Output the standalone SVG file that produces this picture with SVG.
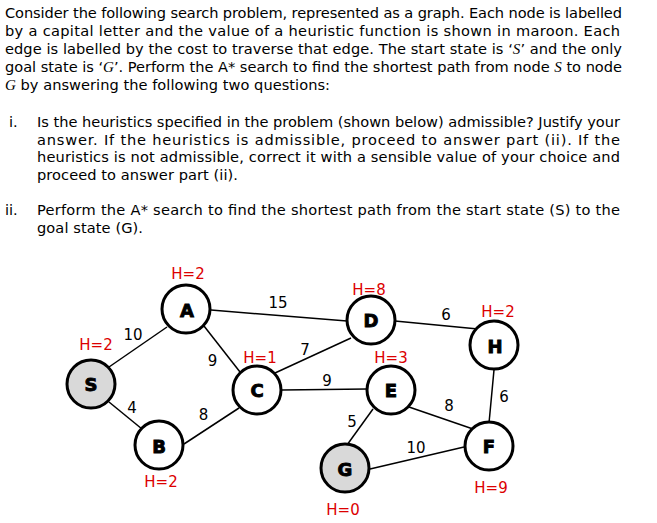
<svg xmlns="http://www.w3.org/2000/svg" width="657" height="523" viewBox="0 0 657 523">
<style>
.p{font-family:"DejaVu Sans",Verdana,sans-serif;font-size:14.6px;fill:#000}
.it{font-family:"Liberation Serif",serif;font-style:italic;font-size:15px}
.hl{font-family:"DejaVu Sans",Verdana,sans-serif;font-size:15px;fill:#dc0000;text-anchor:middle}
.el{font-family:"DejaVu Sans",Verdana,sans-serif;font-size:15px;fill:#000;text-anchor:middle}
.nl{font-family:"DejaVu Sans",sans-serif;font-weight:bold;font-size:18px;fill:#000;stroke:#000;stroke-width:0.9;text-anchor:middle}
.nc{fill:#fff;stroke:#000;stroke-width:3}
.gray{fill:#d9d9d9}
.edge line{stroke:#000;stroke-width:1.5}
</style>
<rect width="657" height="523" fill="#fff"/>
<g id="text">
<text class="p" x="5" y="18" textLength="617" lengthAdjust="spacing">Consider the following search problem, represented as a graph. Each node is labelled</text>
<text class="p" x="5" y="36" textLength="615" lengthAdjust="spacing">by a capital letter and the value of a heuristic function is shown in maroon. Each</text>
<text class="p" x="5" y="54" textLength="617" lengthAdjust="spacing">edge is labelled by the cost to traverse that edge. The start state is ‘<tspan class="it">S</tspan>’ and the only</text>
<text class="p" x="5" y="72" textLength="617" lengthAdjust="spacing">goal state is ‘<tspan class="it">G</tspan>’. Perform the A* search to find the shortest path from node <tspan class="it">S</tspan> to node</text>
<text class="p" x="5" y="89.5" textLength="325" lengthAdjust="spacing"><tspan class="it">G</tspan> by answering the following two questions:</text>
<text class="p" x="9" y="127">i.</text>
<text class="p" x="37" y="127" textLength="583" lengthAdjust="spacing">Is the heuristics specified in the problem (shown below) admissible? Justify your</text>
<text class="p" x="37" y="144.5" textLength="583" lengthAdjust="spacing">answer. If the heuristics is admissible, proceed to answer part (ii). If the</text>
<text class="p" x="37" y="162" textLength="583" lengthAdjust="spacing">heuristics is not admissible, correct it with a sensible value of your choice and</text>
<text class="p" x="37" y="179.5" textLength="201" lengthAdjust="spacing">proceed to answer part (ii).</text>
<text class="p" x="5" y="215">ii.</text>
<text class="p" x="37" y="215" textLength="583" lengthAdjust="spacing">Perform the A* search to find the shortest path from the start state (S) to the</text>
<text class="p" x="37" y="232.5" textLength="106" lengthAdjust="spacing">goal state (G).</text>
</g>
<g id="connectors" class="edge">
<line x1="109" y1="367" x2="167" y2="327"/>
<line x1="109" y1="402" x2="142" y2="429"/>
<line x1="211" y1="310" x2="347" y2="321"/>
<line x1="204" y1="326" x2="240" y2="372"/>
<line x1="184" y1="444" x2="239" y2="408"/>
<line x1="275" y1="373" x2="351" y2="338"/>
<line x1="282" y1="390" x2="367" y2="389"/>
<line x1="395" y1="321" x2="478" y2="329"/>
<line x1="494" y1="370" x2="489" y2="423"/>
<line x1="373" y1="409" x2="347" y2="445"/>
<line x1="409" y1="407" x2="473" y2="429"/>
<line x1="370" y1="469" x2="464" y2="447"/>
<text class="el" x="133" y="340">10</text>
<text class="el" x="278" y="308">15</text>
<text class="el" x="212.5" y="366">9</text>
<text class="el" x="305" y="355">7</text>
<text class="el" x="327" y="385.5">9</text>
<text class="el" x="132" y="413">4</text>
<text class="el" x="203.5" y="420">8</text>
<text class="el" x="446" y="320">6</text>
<text class="el" x="449" y="410.5">8</text>
<text class="el" x="504" y="402">6</text>
<text class="el" x="352" y="426.5">5</text>
<text class="el" x="416" y="453">10</text>
</g>
<g id="node-A"><circle class="nc" cx="186" cy="309" r="24"/><text class="nl" x="187" y="316.5">A</text><text class="hl" x="188" y="279">H=2</text></g>
<g id="node-S"><circle class="nc gray" cx="91" cy="384" r="24"/><text class="nl" x="91" y="391">S</text><text class="hl" x="96" y="350">H=2</text></g>
<g id="node-B"><circle class="nc" cx="159" cy="445" r="24"/><text class="nl" x="159" y="452.5">B</text><text class="hl" x="161" y="487">H=2</text></g>
<g id="node-C"><circle class="nc" cx="257" cy="390" r="24"/><text class="nl" x="257" y="397">C</text><text class="hl" x="260" y="363">H=1</text></g>
<g id="node-D"><circle class="nc" cx="371" cy="320" r="24"/><text class="nl" x="371" y="327">D</text><text class="hl" x="369" y="295">H=8</text></g>
<g id="node-H"><circle class="nc" cx="494" cy="345" r="24"/><text class="nl" x="495" y="352.5">H</text><text class="hl" x="498" y="316.5">H=2</text></g>
<g id="node-E"><circle class="nc" cx="391" cy="390" r="24"/><text class="nl" x="391" y="397">E</text><text class="hl" x="391" y="362.5">H=3</text></g>
<g id="node-F"><circle class="nc" cx="489" cy="446" r="24"/><text class="nl" x="489" y="453">F</text><text class="hl" x="491" y="493">H=9</text></g>
<g id="node-G"><circle class="nc gray" cx="345" cy="468" r="24"/><text class="nl" x="345" y="475.5">G</text><text class="hl" x="343" y="515">H=0</text></g>
</svg>
